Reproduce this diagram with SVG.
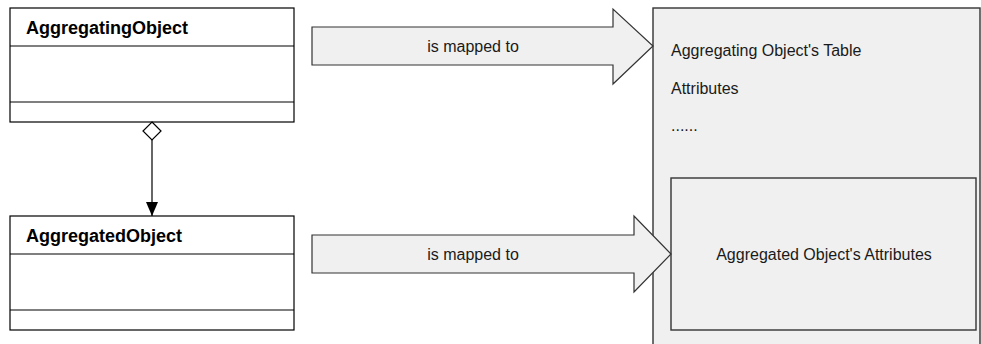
<svg xmlns="http://www.w3.org/2000/svg" width="981" height="344" viewBox="0 0 981 344">
  <style>
    .cls { fill: #ffffff; stroke: #000000; stroke-width: 1.2; }
    .div { stroke: #000000; stroke-width: 1.2; }
    .title { font-family: "Liberation Sans", Arial, sans-serif; font-size: 18px; font-weight: bold; fill: #000000; }
    .lbl { font-family: "Liberation Sans", Arial, sans-serif; font-size: 16px; fill: #1a1a1a; }
    .block { fill: #f0f0f0; stroke: #333333; stroke-width: 1.2; }
    .big { fill: #f0f0f0; stroke: #333333; stroke-width: 1.4; }
    .link { stroke: #000000; stroke-width: 1.2; fill: none; }
  </style>
  <defs>
    <marker id="solidHead" markerWidth="14" markerHeight="12" refX="14" refY="6" orient="auto" markerUnits="userSpaceOnUse">
      <path d="M0,0 L14,6 L0,12 Z" fill="#000000"/>
    </marker>
  </defs>

  <rect width="981" height="344" fill="#ffffff"/>

  <!-- target table -->
  <g id="table">
    <rect class="big" x="653" y="8" width="327" height="345"/>
    <text class="lbl" x="671" y="56">Aggregating Object's Table</text>
    <text class="lbl" x="671" y="94">Attributes</text>
    <text class="lbl" x="671" y="131">......</text>
  </g>

  <g id="tableAttributes">
    <rect class="big" x="671" y="178" width="305" height="152"/>
    <text class="lbl" x="824" y="260" text-anchor="middle">Aggregated Object's Attributes</text>
  </g>

  <!-- UML classes -->
  <g id="aggregatingObject">
    <rect class="cls" x="10" y="8" width="284" height="114"/>
    <line class="div" x1="10" y1="46" x2="294" y2="46"/>
    <line class="div" x1="10" y1="102" x2="294" y2="102"/>
    <text class="title" x="26" y="34">AggregatingObject</text>
  </g>

  <g id="aggregatedObject">
    <rect class="cls" x="10" y="216" width="284" height="114"/>
    <line class="div" x1="10" y1="254" x2="294" y2="254"/>
    <line class="div" x1="10" y1="310" x2="294" y2="310"/>
    <text class="title" x="26" y="242">AggregatedObject</text>
  </g>

  <!-- mapping arrows -->
  <g id="mapArrow1">
    <path class="block" d="M312,27 L613,27 L613,9 L653,46 L613,84 L613,65 L312,65 Z"/>
    <text class="lbl" x="473" y="52" text-anchor="middle">is mapped to</text>
  </g>

  <g id="mapArrow2">
    <path class="block" d="M312,235 L634,235 L634,216 L671,254 L634,292 L634,273 L312,273 Z"/>
    <text class="lbl" x="473" y="260" text-anchor="middle">is mapped to</text>
  </g>

  <!-- aggregation connector -->
  <g id="connectors">
    <path d="M152,122 L161,131 L152,140 L143,131 Z" fill="#ffffff" stroke="#000000" stroke-width="1.2"/>
    <line class="link" x1="152" y1="140" x2="152" y2="216" marker-end="url(#solidHead)"/>
  </g>
</svg>
